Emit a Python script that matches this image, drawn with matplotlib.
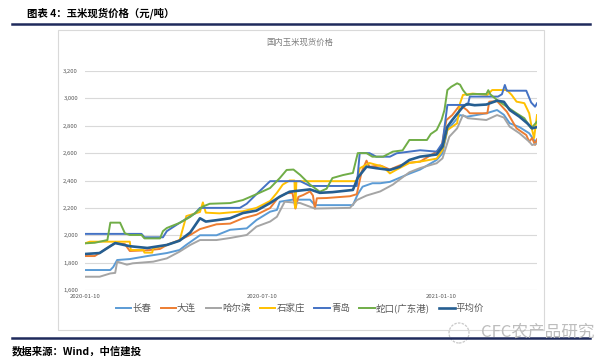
import matplotlib
matplotlib.use("Agg")
import matplotlib.pyplot as plt
import pandas as pd
from matplotlib.patches import Rectangle, Ellipse
from matplotlib.lines import Line2D

plt.rcParams['font.family'] = ['Noto Sans CJK SC', 'DejaVu Sans']

start = pd.Timestamp('2020-01-10')

series_names = ['长春', '大连', '哈尔滨', '石家庄', '青岛', '蛇口(广东港)', '平均价']
series_colors = ['#5B9BD5', '#ED7D31', '#A5A5A5', '#FFC000', '#4472C4', '#70AD47', '#255E91']

cc_days = [0, 26, 29, 33, 46, 64, 84, 97, 104, 111, 118, 135, 149, 166, 176, 190, 197, 200, 213, 231, 236, 275, 280, 285, 295, 303, 313, 323, 333, 344, 361, 367, 372, 385, 392, 412, 423, 430, 436, 446, 456, 462, 464]
cc_vals = [1746, 1746, 1768, 1819, 1826, 1848, 1870, 1892, 1930, 1965, 2000, 2000, 2040, 2050, 2111, 2172, 2185, 2245, 2260, 2260, 2220, 2220, 2300, 2355, 2380, 2380, 2390, 2420, 2450, 2480, 2550, 2599, 2769, 2878, 2866, 2891, 2915, 2880, 2818, 2790, 2745, 2684, 2700]

dl_days = [0, 10, 23, 31, 41, 46, 64, 77, 84, 97, 108, 118, 135, 149, 162, 176, 190, 198, 207, 213, 216, 219, 224, 231, 234, 236, 238, 248, 272, 279, 284, 289, 292, 303, 313, 323, 333, 344, 361, 366, 371, 377, 385, 392, 395, 413, 415, 423, 433, 443, 453, 456, 459, 462, 464]
dl_vals = [1848, 1848, 1907, 1943, 1935, 1885, 1890, 1900, 1929, 1965, 2002, 2045, 2080, 2085, 2124, 2150, 2199, 2272, 2308, 2308, 2195, 2280, 2294, 2320, 2290, 2195, 2270, 2272, 2285, 2300, 2465, 2545, 2500, 2510, 2480, 2510, 2530, 2538, 2611, 2647, 2842, 2878, 2952, 2915, 2891, 2891, 2976, 2980, 2903, 2781, 2732, 2684, 2710, 2660, 2700]

heb_days = [0, 15, 26, 31, 33, 43, 49, 70, 84, 97, 108, 118, 135, 149, 166, 176, 190, 197, 205, 221, 236, 272, 279, 289, 303, 316, 333, 344, 361, 367, 374, 382, 388, 393, 412, 423, 430, 436, 446, 456, 459, 464]
heb_vals = [1697, 1697, 1721, 1725, 1807, 1785, 1795, 1807, 1831, 1880, 1929, 1965, 1965, 1980, 2002, 2063, 2100, 2135, 2245, 2235, 2195, 2200, 2257, 2290, 2320, 2370, 2460, 2491, 2526, 2562, 2720, 2781, 2878, 2855, 2842, 2878, 2860, 2793, 2745, 2684, 2659, 2670]

sjz_days = [0, 5, 46, 47, 60, 61, 69, 70, 84, 97, 104, 118, 121, 124, 138, 162, 176, 190, 197, 203, 210, 215, 216, 217, 221, 279, 282, 292, 306, 313, 320, 333, 344, 361, 367, 372, 382, 385, 388, 398, 413, 418, 433, 438, 443, 451, 456, 459, 461, 464]
sjz_vals = [1941, 1953, 1953, 1892, 1892, 1873, 1873, 1905, 1929, 1960, 2140, 2170, 2240, 2165, 2160, 2175, 2200, 2250, 2310, 2370, 2400, 2400, 2200, 2395, 2395, 2395, 2489, 2528, 2501, 2452, 2480, 2528, 2538, 2560, 2623, 2769, 2818, 2964, 3025, 3035, 3025, 3061, 3061, 3025, 2976, 2965, 2891, 2769, 2710, 2878]

qd_days = [0, 58, 61, 80, 84, 97, 104, 113, 118, 159, 166, 176, 190, 221, 231, 279, 282, 292, 299, 313, 320, 333, 344, 361, 367, 372, 393, 395, 424, 428, 431, 433, 453, 458, 462, 464]
qd_vals = [2010, 2010, 1985, 1985, 2030, 2090, 2120, 2160, 2200, 2200, 2230, 2300, 2395, 2395, 2360, 2360, 2600, 2600, 2574, 2574, 2599, 2611, 2621, 2611, 2674, 2952, 2952, 3013, 3013, 3030, 3098, 3056, 3056, 2970, 2939, 2964]

sk_days = [0, 10, 23, 26, 36, 41, 46, 58, 61, 77, 80, 84, 97, 108, 113, 121, 128, 149, 162, 176, 190, 200, 207, 214, 221, 231, 241, 248, 254, 265, 275, 280, 289, 295, 306, 316, 326, 333, 351, 355, 361, 366, 369, 372, 376, 382, 385, 388, 392, 398, 412, 414, 416, 423, 433, 443, 451, 458, 464]
sk_vals = [1941, 1945, 1965, 2092, 2092, 2014, 2002, 2002, 1977, 1977, 2030, 2053, 2090, 2134, 2162, 2210, 2230, 2235, 2257, 2300, 2345, 2418, 2477, 2480, 2440, 2370, 2318, 2340, 2418, 2440, 2455, 2600, 2600, 2574, 2574, 2611, 2620, 2696, 2696, 2740, 2769, 2842, 2915, 3061, 3085, 3110, 3100, 3061, 3025, 3032, 3032, 3060, 3030, 2988, 2939, 2891, 2855, 2781, 2830]

avg_days = [0, 15, 23, 31, 46, 64, 84, 97, 108, 118, 124, 135, 149, 162, 176, 190, 200, 210, 231, 241, 254, 275, 280, 289, 299, 313, 323, 333, 344, 361, 367, 372, 377, 388, 392, 400, 412, 423, 430, 436, 446, 454, 459, 464]
avg_vals = [1863, 1870, 1907, 1943, 1920, 1907, 1929, 1960, 2020, 2124, 2100, 2110, 2124, 2162, 2180, 2235, 2282, 2318, 2335, 2310, 2315, 2331, 2420, 2501, 2490, 2477, 2500, 2550, 2574, 2590, 2647, 2793, 2842, 2939, 2959, 2950, 2955, 2983, 2975, 2915, 2866, 2818, 2781, 2790]

all_days = [cc_days, dl_days, heb_days, sjz_days, qd_days, sk_days, avg_days]
all_vals = [cc_vals, dl_vals, heb_vals, sjz_vals, qd_vals, sk_vals, avg_vals]

x_ticks = ['2020-01-10', '2020-07-10', '2021-01-10']
y_ticks = [1600, 1800, 2000, 2200, 2400, 2600, 2800, 3000, 3200]

W, H = 601, 360
fig = plt.figure(figsize=(W / 100, H / 100), dpi=100)

def fx(px):
    return px / W

def fy(py):
    return 1 - py / H

# outer chart frame
fig.patches.append(Rectangle((fx(58), fy(330)), fx(544) - fx(58), fy(30) - fy(330),
                             transform=fig.transFigure, fill=False, edgecolor='#D9D9D9', linewidth=0.8))
# navy rules
fig.add_artist(Line2D([fx(12), fx(590)], [fy(24), fy(24)], color='#1F2A5C', linewidth=1.8))
fig.add_artist(Line2D([fx(12), fx(590)], [fy(338), fy(338)], color='#1F2A5C', linewidth=1.8))

fig.text(fx(27), fy(13), '图表 4：玉米现货价格（元/吨）', fontsize=7.5, fontweight='bold',
         va='center', ha='left', color='#000000')
fig.text(fx(12), fy(351), '数据来源：Wind，中信建投', fontsize=7.5, fontweight='bold', style='italic',
         va='center', ha='left', color='#000000')
fig.text(fx(300), fy(42), '国内玉米现货价格', fontsize=6, va='center', ha='center', color='#7F7F7F')

# watermark
fig.patches.append(Ellipse((fx(459), fy(333)), 20 / W, 20 / H, transform=fig.transFigure,
                           fill=False, edgecolor='#C8C8C8', linewidth=0.9, linestyle=(0, (2, 1))))
fig.text(fx(594), fy(332), 'CFC农产品研究', fontsize=12, va='center', ha='right', color='#BDBDBD')

ax = fig.add_axes([fx(85), fy(290), fx(537) - fx(85), fy(71) - fy(290)])
for name, color, dd, vv in zip(series_names, series_colors, all_days, all_vals):
    dates = [start + pd.Timedelta(days=d) for d in dd]
    lw = 1.9 if name == '平均价' else 1.4
    ax.plot(dates, vv, color=color, linewidth=lw, label=name, solid_joinstyle='round')

ax.set_xlim(start, start + pd.Timedelta(days=464))
ax.set_ylim(1600, 3200)
ax.set_yticks(y_ticks)
ax.set_yticklabels([f'{v:,}' for v in y_ticks], fontsize=4.3, color='#595959')
ax.set_xticks([pd.Timestamp(t) for t in x_ticks])
ax.set_xticklabels(x_ticks, fontsize=4.3, color='#595959')
ax.grid(axis='y', color='#D9D9D9', linewidth=0.8)
ax.set_axisbelow(True)
for s in ax.spines.values():
    s.set_visible(False)
ax.tick_params(length=0, pad=3)
ax.tick_params(axis='y', pad=5)

fig.legend(loc='center', bbox_to_anchor=(fx(300), fy(308)), ncol=7, frameon=False,
           fontsize=6.8, handlelength=1.6, handletextpad=0.15, columnspacing=1.0,
           labelcolor='#595959')

fig.savefig('out.png', dpi=100)
